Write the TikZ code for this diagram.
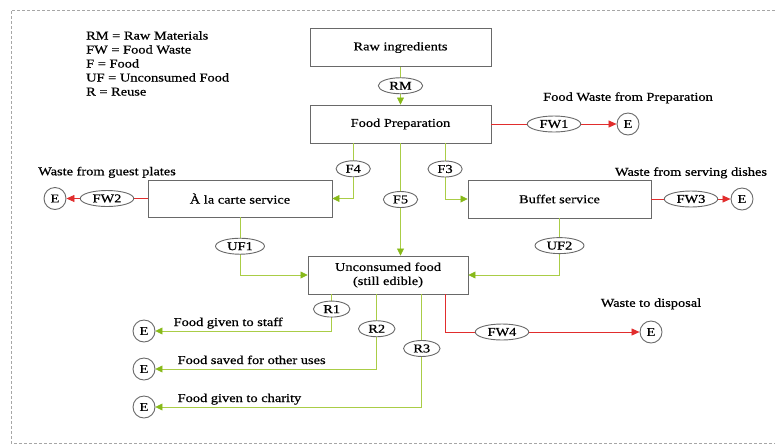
\documentclass[tikz,border=0pt]{standalone}
\usepackage{fontspec}
\setmainfont{Liberation Serif}[FakeStretch=1.2, FakeBold=0.6]
\usepackage{tikz}
\usetikzlibrary{positioning, calc, arrows.meta, shapes.geometric}
\definecolor{boxgray}{RGB}{105,105,105}
\definecolor{foodgreen}{RGB}{170,205,70}
\definecolor{foodtip}{RGB}{135,185,25}
\definecolor{wastered}{RGB}{225,45,45}

\begin{document}
\begin{tikzpicture}[x=1pt, y=-1pt, font=\fontsize{12}{14}\selectfont,
	stage/.style={draw=boxgray, line width=0.9pt, shape=rectangle, minimum height=38pt, align=center},
	tag/.style={draw=boxgray, fill=white, line width=0.9pt, shape=ellipse, inner xsep=4.5pt, inner ysep=0pt, minimum height=16pt},
	sink/.style={draw=boxgray, fill=white, line width=0.9pt, shape=circle, inner sep=0pt, minimum size=22pt},
	food/.style={draw=foodgreen, line width=0.7pt, -{Triangle[length=7pt, width=7pt, color=foodtip]}},
	waste/.style={draw=wastered, line width=0.7pt, -{Triangle[length=8pt, width=7pt]}},
	note/.style={inner sep=0pt},
	border/.style={draw=black!35, line width=0.8pt, dash pattern=on 3pt off 2pt}]
\useasboundingbox (0,0) rectangle (775,445);
\draw[border] (775,10) -| (11,443) -- (775,443);
\node[note, anchor=north west, align=left] (legend) at (86,31) {RM = Raw Materials\\FW = Food Waste\\F = Food\\UF = Unconsumed Food\\R = Reuse};
\node[stage, minimum width=181pt] (raw) at (400.5,47.5) {Raw ingredients};
\node[stage, minimum width=181pt] (prep) at (400.5,124) {Food Preparation};
\node[stage, minimum width=184pt, minimum height=37pt] (alacarte) at (240,198.5) {À la carte service};
\node[stage, minimum width=183pt] (buffet) at (559.5,199) {Buffet service};
\node[stage, minimum width=160pt] (unc) at (388,275) {Unconsumed food\\(still edible)};
\node[sink] (E FW1) at (628,124) {E};
\node[sink] (E FW2) at (55,198.5) {E};
\node[sink] (E FW3) at (742,199) {E};
\node[sink] (E FW4) at (651,332) {E};
\draw[food] (raw) -- node[tag] (tag RM) {RM} (prep);
\draw[waste] (prep) -- node[tag] (tag FW1) {FW1} (E FW1);
\draw[food] ($(prep.south west)!0.24!(prep.south east)$) |- node[tag, pos=0.23] (tag F4) {F4} (alacarte.east);
\draw[food] ($(prep.south west)!0.745!(prep.south east)$) |- node[tag, pos=0.23] (tag F3) {F3} (buffet.west);
\draw[food] (prep.south) -- node[tag] (tag F5) {F5} (prep.south |- unc.north);
\draw[waste] (alacarte) -- node[tag] (tag FW2) {FW2} (E FW2);
\draw[waste] (buffet) -- node[tag] (tag FW3) {FW3} (E FW3);
\draw[food] (alacarte.south) |- node[tag, pos=0.25] (tag UF1) {UF1} (unc.west);
\draw[food] (buffet.south) |- node[tag, pos=0.24] (tag UF2) {UF2} (unc.east);
\foreach \n/\f/\p/\y/\g/\txt in {1/0.15/0.2/331/18/Food given to staff, 2/0.43/0.23/369/22/Food saved for other uses, 3/0.71/0.24/407/22/Food given to charity} {
	\node[sink] (E R\n) at (144,\y) {E};
	\draw[food] ($(unc.south west)!\f!(unc.south east)$) |- node[tag, pos=\p] (tag R\n) {R\n} (E R\n);
	\node[note, anchor=base west] (note R\n) at ($(E R\n.east)+(\g,-5)$) {\txt};
}
\draw[waste] ($(unc.south west)!0.856!(unc.south east)$) |- node[tag, pos=0.646] (tag FW4) {FW4} (E FW4);
\node[note, above=9pt of E FW1] (note FW1) {Food Waste from Preparation};
\node[note, above=12pt of tag FW2] (note FW2) {Waste from guest plates};
\node[note, above=12pt of tag FW3] (note FW3) {Waste from serving dishes};
\node[note, above=11pt of E FW4] (note FW4) {Waste to disposal};
\end{tikzpicture}
\end{document}
